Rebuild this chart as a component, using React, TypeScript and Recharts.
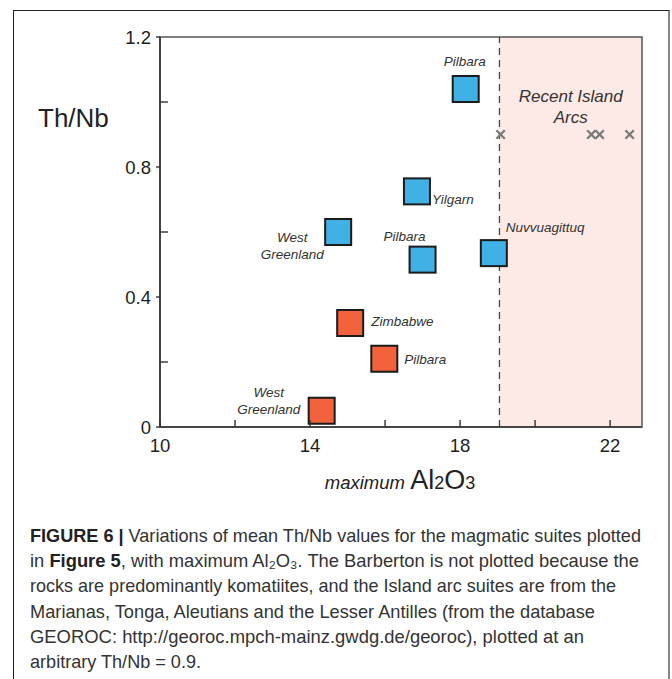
import React from "react";
import { ScatterChart, Scatter, XAxis, YAxis, ReferenceArea, ReferenceLine, Label } from "recharts";

// Archean suites: mean Th/Nb against maximum Al2O3
const blueSuites = ["Pilbara", "Yilgarn", "West Greenland", "Pilbara", "Nuvvuagittuq"];
const blueAl2O3 = [18.15, 16.85, 14.75, 17.0, 18.9];
const blueThNb = [1.04, 0.725, 0.6, 0.515, 0.535];

const redSuites = ["Zimbabwe", "Pilbara", "West Greenland"];
const redAl2O3 = [15.07, 15.98, 14.31];
const redThNb = [0.32, 0.21, 0.05];

// recent island arcs, put at an arbitrary Th/Nb = 0.9
const arcAl2O3 = [19.08, 21.5, 21.72, 22.52];
const arcThNb = [0.9, 0.9, 0.9, 0.9];

const xTicks = [10, 12, 14, 16, 18, 20, 22];
const xTickLabels = [10, 14, 18, 22];
const yTicks = [0, 0.2, 0.4, 0.6, 0.8, 1.0, 1.2];
const yTickLabels = [0, 0.4, 0.8, 1.2];

const xMin = 10;
const xMax = 22.85;
const arcLimit = 19.05;

const blueData = blueAl2O3.map((x, i) => ({ x, y: blueThNb[i], name: blueSuites[i], i }));
const redData = redAl2O3.map((x, i) => ({ x, y: redThNb[i], name: redSuites[i], i }));
const arcData = arcAl2O3.map((x, i) => ({ x, y: arcThNb[i] }));

type Tag = { dx: number; dy: number; anchor: "start" | "middle" | "end" };

// where each suite name sits relative to its square
const blueTags: Tag[] = [
  { dx: -1, dy: -23, anchor: "middle" },
  { dx: 15, dy: 13, anchor: "start" },
  { dx: -46, dy: 10, anchor: "middle" },
  { dx: -18, dy: -19, anchor: "middle" },
  { dx: 12, dy: -21, anchor: "start" },
];
const redTags: Tag[] = [
  { dx: 21, dy: 3, anchor: "start" },
  { dx: 20, dy: 5, anchor: "start" },
  { dx: -53, dy: -14, anchor: "middle" },
];

const FONT = "'Liberation Sans', Arial, Helvetica, sans-serif";

const suiteShape = (fill: string, tags: Tag[]) => (props: any) => {
  const { cx, cy, payload } = props;
  const tag = tags[payload.i];
  const lines: string[] = payload.name === "West Greenland" ? ["West", "Greenland"] : [payload.name];
  const tx = cx + tag.dx;
  return (
    <g>
      <rect x={cx - 13} y={cy - 13} width={26} height={26} fill={fill} stroke="#1b1b1b" strokeWidth={2} />
      <text x={tx} y={cy + tag.dy} textAnchor={tag.anchor} fontStyle="italic" fontSize={13.5} fill="#333" fontFamily={FONT}>
        {lines.map((l, k) => (
          <tspan key={k} x={tx} dy={k === 0 ? 0 : 17}>
            {l}
          </tspan>
        ))}
      </text>
    </g>
  );
};

const ArcCross = (props: any) => {
  const { cx, cy } = props;
  const r = 4.2;
  return (
    <path
      d={`M${cx - r},${cy - r}L${cx + r},${cy + r}M${cx + r},${cy - r}L${cx - r},${cy + r}`}
      stroke="#7a7a7a"
      strokeWidth={2.3}
      fill="none"
    />
  );
};

const XTick = (props: any) => {
  const { x, y, payload } = props;
  const v = payload.value;
  return (
    <g>
      <line x1={x} x2={x} y1={y} y2={y - 7} stroke="#333" strokeWidth={1.4} />
      {xTickLabels.includes(v) && (
        <text x={x} y={y + 24.5} textAnchor="middle" fontSize={18.5} fill="#1e1e1e" fontFamily={FONT}>
          {v}
        </text>
      )}
    </g>
  );
};

const YTick = (props: any) => {
  const { x, y, payload } = props;
  const v = payload.value;
  const labelled = yTickLabels.some((t) => Math.abs(t - v) < 1e-9);
  if (!labelled) {
    return <line x1={x} x2={x + 8} y1={y} y2={y} stroke="#333" strokeWidth={1.4} />;
  }
  return (
    <g>
      <line x1={x - 4} x2={x} y1={y} y2={y} stroke="#333" strokeWidth={1.4} />
      <text x={x - 9} y={y + 7} textAnchor="end" fontSize={18.5} fill="#1e1e1e" fontFamily={FONT}>
        {String(v)}
      </text>
    </g>
  );
};

const XTitle = (props: any) => {
  const vb = props.viewBox;
  return (
    <text x={vb.x + 240} y={vb.y + 62} textAnchor="middle" fill="#222" fontFamily={FONT}>
      <tspan fontStyle="italic" fontSize={18.5}>maximum </tspan>
      <tspan fontSize={27}>Al</tspan>
      <tspan fontSize={18}>2</tspan>
      <tspan fontSize={27}>O</tspan>
      <tspan fontSize={18}>3</tspan>
    </text>
  );
};

const YTitle = (props: any) => {
  const vb = props.viewBox;
  return (
    <text x={vb.x + 38} y={vb.y + 90} fontSize={26} fill="#222" fontFamily={FONT}>
      Th/Nb
    </text>
  );
};

const ArcsTitle = (props: any) => {
  const vb = props.viewBox;
  const cx = vb.x + vb.width / 2;
  return (
    <text x={cx} y={vb.y + 65} textAnchor="middle" fontStyle="italic" fontSize={17} fill="#333" fontFamily={FONT}>
      <tspan x={cx}>Recent Island</tspan>
      <tspan x={cx} dy={20.5}>
        Arcs
      </tspan>
    </text>
  );
};

const Caption = () => {
  const base = { x: 30, fontSize: 19, fill: "#333", fontFamily: FONT, lengthAdjust: "spacingAndGlyphs" as const };
  return (
    <svg width={672} height={179} style={{ position: "absolute", left: 0, top: 500 }}>
      <text {...base} y={42} textLength={611}>
        <tspan fontWeight="bold" fill="#222">FIGURE 6 | </tspan>
        Variations of mean Th/Nb values for the magmatic suites plotted
      </text>
      <text {...base} y={67} textLength={609}>
        in <tspan fontWeight="bold" fill="#222">Figure 5</tspan>, with maximum Al₂O₃. The Barberton is not plotted because the
      </text>
      <text {...base} y={92} textLength={586}>
        rocks are predominantly komatiites, and the Island arc suites are from the
      </text>
      <text {...base} y={118} textLength={565}>
        Marianas, Tonga, Aleutians and the Lesser Antilles (from the database
      </text>
      <text {...base} y={143} textLength={554}>
        GEOROC: http://georoc.mpch-mainz.gwdg.de/georoc), plotted at an
      </text>
      <text {...base} y={168} textLength={171}>
        arbitrary Th/Nb = 0.9.
      </text>
    </svg>
  );
};

export default function App() {
  return (
    <div style={{ position: "absolute", left: 0, top: 0, width: 672, height: 679, background: "#fff", overflow: "hidden" }}>
      <div
        style={{
          position: "absolute",
          left: 13,
          top: 10,
          width: 654,
          height: 720,
          borderLeft: "1.5px solid #222",
          borderTop: "1.5px solid #222",
          borderRight: "2px solid #888",
        }}
      />
      <div style={{ position: "absolute", left: 0, top: 0 }}>
        <ScatterChart width={672} height={500} margin={{ top: 37, right: 30, bottom: 0, left: 0 }}>
          <XAxis
            type="number"
            dataKey="x"
            domain={[xMin, xMax]}
            ticks={xTicks}
            interval={0}
            allowDataOverflow
            tick={<XTick />}
            tickLine={false}
            tickSize={0}
            tickMargin={0}
            height={73}
            axisLine={{ stroke: "#333", strokeWidth: 1.6 }}
          >
            <Label content={<XTitle />} />
          </XAxis>
          <YAxis
            type="number"
            dataKey="y"
            domain={[0, 1.2]}
            ticks={yTicks}
            interval={0}
            allowDataOverflow
            tick={<YTick />}
            tickLine={false}
            tickSize={0}
            tickMargin={0}
            width={160}
            axisLine={{ stroke: "#333", strokeWidth: 1.6 }}
          >
            <Label content={<YTitle />} />
          </YAxis>
          <ReferenceArea
            x1={arcLimit}
            x2={xMax}
            y1={0}
            y2={1.2}
            fill="#fde9e5"
            fillOpacity={1}
            stroke="none"
            label={<ArcsTitle />}
          />
          <ReferenceArea x1={xMin} x2={xMax} y1={0} y2={1.2} fill="none" stroke="#555" strokeWidth={1.5} />
          <ReferenceLine x={arcLimit} stroke="#444" strokeWidth={1.3} strokeDasharray="7 5" />
          <Scatter data={arcData} shape={<ArcCross />} isAnimationActive={false} />
          <Scatter data={blueData} shape={suiteShape("#41b1e5", blueTags)} isAnimationActive={false} />
          <Scatter data={redData} shape={suiteShape("#f1623d", redTags)} isAnimationActive={false} />
        </ScatterChart>
      </div>
      <Caption />
    </div>
  );
}
